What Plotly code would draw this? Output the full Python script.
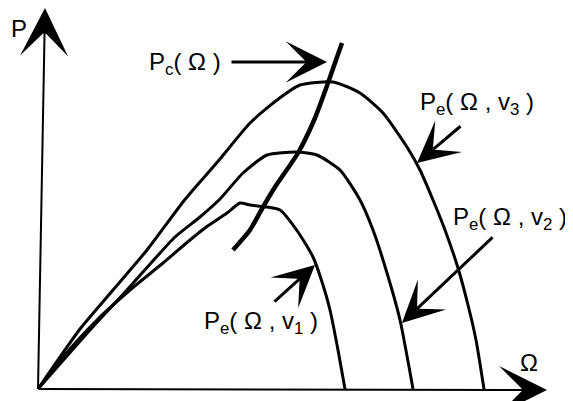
import plotly.graph_objects as go

# curves (Omega, P in arbitrary units)
omega_v1 = [0, 25, 59, 92, 125, 152, 167, 189, 202, 212, 229, 242, 260, 275, 285, 292, 300, 307]
p_v1 = [0, 32, 69, 99, 126, 149, 161, 176, 186, 184, 182, 179, 157, 132, 104, 79, 39, 0]

omega_v2 = [0, 52, 89, 137, 162, 182, 205, 229, 259, 279, 302, 322, 335, 349, 362, 375]
p_v2 = [0, 59, 99, 152, 172, 190, 216, 234, 237, 234, 219, 189, 159, 116, 69, 0]

omega_v3 = [0, 42, 75, 109, 145, 162, 182, 212, 239, 262, 295, 322, 345, 369, 382, 395, 407, 420, 430, 438, 446]
p_v3 = [0, 60, 99, 139, 187, 207, 230, 266, 289, 304, 307, 296, 276, 242, 219, 189, 159, 121, 84, 49, 0]

omega_c = [195, 212, 225, 237, 260, 277, 290, 298, 304]
p_c = [139, 159, 182, 202, 236, 271, 306, 329, 346]

fig = go.Figure()

for om, p in [(omega_v1, p_v1), (omega_v2, p_v2), (omega_v3, p_v3)]:
    fig.add_trace(go.Scatter(x=om, y=p, mode="lines", line=dict(color="black", width=3, shape="spline", smoothing=0.6),
                             hoverinfo="skip", showlegend=False))
fig.add_trace(go.Scatter(x=omega_c, y=p_c, mode="lines", line=dict(color="black", width=4.5, shape="spline", smoothing=0.6),
                         hoverinfo="skip", showlegend=False))

FONT = dict(family="Liberation Sans, Arial, sans-serif", size=24, color="black")


def arrow(x0, y0, x1, y1, width=3, size=2.3):
    # arrowhead 3 = filled head with a notch, like the sketch
    fig.add_annotation(x=x1, y=y1, ax=x0, ay=y0, xref="x", yref="y", axref="x", ayref="y",
                       text="", showarrow=True, arrowhead=3, arrowsize=size, arrowwidth=width,
                       arrowcolor="black", standoff=0)


def label(x, y, txt):
    fig.add_annotation(x=x, y=y, xref="x", yref="y", text=txt, showarrow=False, font=FONT,
                       xanchor="center", yanchor="middle")


# axes
arrow(0, 0, 509, -1, width=2, size=4.0)
arrow(0, 0, 7, 381, width=2, size=4.0)
label(491, 27, "Ω")
label(-19, 361, "P")

# labels and pointers
label(147, 326, "P<sub>c</sub>( Ω )")
arrow(192, 327, 289, 327)
label(439, 286, "P<sub>e</sub>( Ω , v<sub>3</sub> )")
arrow(424, 264, 379, 226)
label(472, 171, "P<sub>e</sub>( Ω , v<sub>2</sub> )")
arrow(456, 153, 364, 66)
label(223, 67, "P<sub>e</sub>( Ω , v<sub>1</sub> )")
arrow(235, 86, 277, 124)

# page body adds an 8px margin, so the ranges are shifted to compensate
fig.update_layout(
    width=573, height=401,
    margin=dict(l=0, r=0, t=0, b=0),
    paper_bgcolor="white", plot_bgcolor="white",
    xaxis=dict(range=[-30, 543], visible=False, fixedrange=True),
    yaxis=dict(range=[-20, 381], visible=False, fixedrange=True),
)

fig.write_html("out.html")
